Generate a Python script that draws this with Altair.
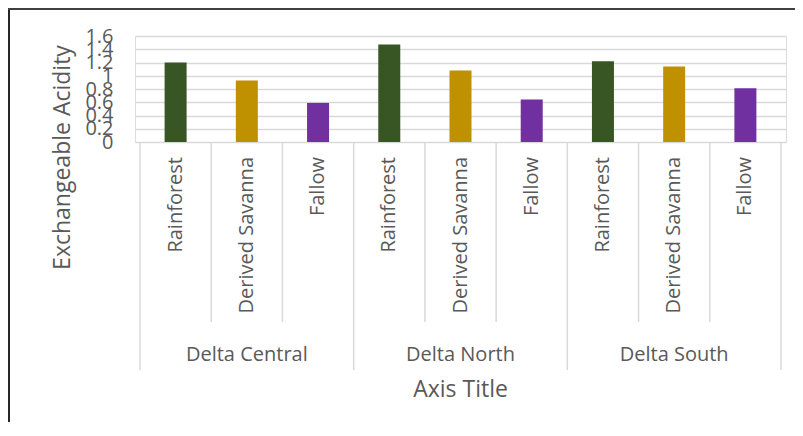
import altair as alt
import pandas as pd

regions = ["Delta Central", "Delta North", "Delta South"]
land_uses = ["Rainforest", "Derived Savanna", "Fallow"]
acidity = [
    [1.20, 0.93, 0.59],
    [1.47, 1.08, 0.64],
    [1.22, 1.14, 0.81],
]
bar_colors = ["#375623", "#bf9000", "#7030a0"]
y_ticks = [0, 0.2, 0.4, 0.6, 0.8, 1.0, 1.2, 1.4, 1.6]
y_title = "Exchangeable Acidity"
x_title = "Axis Title"

FONT = "Open Sans"
TXT = "#595959"
GRID = "#d9d9d9"
W, H = 651, 106

n_cat = len(land_uses)
n_all = len(regions) * n_cat

rows = []
for gi, r in enumerate(regions):
    for ci, lu in enumerate(land_uses):
        rows.append({"region": r, "land_use": lu, "value": acidity[gi][ci],
                     "pos": gi * n_cat + ci + 0.5})
df = pd.DataFrame(rows)

sep = pd.DataFrame({"pos": list(range(n_all + 1))})
sep["kind"] = ["group" if k % n_cat == 0 else "cat" for k in sep["pos"]]
grp = pd.DataFrame({"region": regions,
                    "pos": [gi * n_cat + n_cat / 2 for gi in range(len(regions))]})
ttl = pd.DataFrame({"t": [x_title], "pos": [n_all / 2]})
one = pd.DataFrame({"a": [0]})

xs = alt.Scale(domain=[0, n_all], nice=False, zero=False)

bars = alt.Chart(df).mark_bar(size=22).encode(
    x=alt.X("pos:Q", scale=xs, axis=None),
    y=alt.Y("value:Q", scale=alt.Scale(domain=[0, 1.6], nice=False),
            axis=alt.Axis(values=y_ticks, format="~g", labelOverlap=False,
                          grid=True, gridColor=GRID, gridWidth=1.5,
                          domain=False, ticks=False,
                          labelFont=FONT, labelFontSize=20, labelColor=TXT,
                          labelPadding=22,
                          title=y_title, titleFont=FONT, titleFontSize=23,
                          titleColor=TXT, titleFontWeight="normal",
                          titleX=-73, titleY=121, titleAngle=270,
                          titleAlign="center", titleBaseline="middle")),
    color=alt.Color("land_use:N", scale=alt.Scale(domain=land_uses, range=bar_colors),
                    legend=None),
)

cat_sep = alt.Chart(sep).transform_filter("datum.kind == 'cat'").mark_rule(
    color=GRID, strokeWidth=1.5).encode(
    x=alt.X("pos:Q", scale=xs, axis=None),
    y=alt.value(H), y2=alt.value(H + 180))

grp_sep = alt.Chart(sep).transform_filter("datum.kind == 'group'").mark_rule(
    color=GRID, strokeWidth=1.5).encode(
    x=alt.X("pos:Q", scale=xs, axis=None),
    y=alt.value(H), y2=alt.value(H + 228))

cat_lab = alt.Chart(df).mark_text(angle=270, align="right", baseline="middle",
                                  font=FONT, fontSize=20, color=TXT).encode(
    x=alt.X("pos:Q", scale=xs, axis=None),
    y=alt.value(H + 15), text="land_use:N")

grp_lab = alt.Chart(grp).mark_text(align="center", baseline="middle",
                                   font=FONT, fontSize=20, color=TXT).encode(
    x=alt.X("pos:Q", scale=xs, axis=None),
    y=alt.value(H + 213), text="region:N")

x_ttl = alt.Chart(ttl).mark_text(align="center", baseline="middle",
                                 font=FONT, fontSize=23, color=TXT).encode(
    x=alt.X("pos:Q", scale=xs, axis=None),
    y=alt.value(H + 248), text="t:N")

frame_left = alt.Chart(one).mark_rule(color="#262626", strokeWidth=2).encode(
    x=alt.value(-126), y=alt.value(-28), y2=alt.value(400))
frame_top = alt.Chart(one).mark_rule(color="#404040", strokeWidth=2).encode(
    x=alt.value(-127), x2=alt.value(680), y=alt.value(-27))

chart = alt.layer(grp_sep, cat_sep, bars, cat_lab, grp_lab, x_ttl,
                  frame_left, frame_top).properties(
    width=W, height=H,
    autosize=alt.AutoSizeParams(type="none"),
    padding={"left": 127, "top": 28, "right": 9, "bottom": 280},
).configure_view(stroke=None).configure(background="white")

chart.save("out.html", embed_options={"renderer": "svg", "actions": False})
